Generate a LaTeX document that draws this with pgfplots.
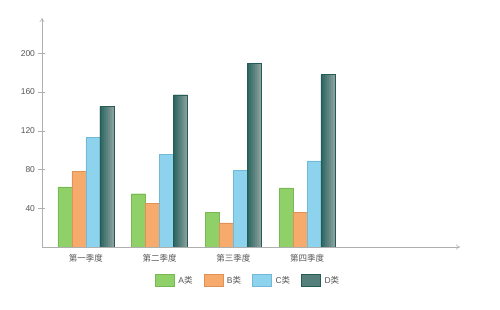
\documentclass[border=0pt]{standalone}
\usepackage{pgfplots}
\pgfplotsset{compat=1.18}
\usepackage{pgfplotstable}
\usetikzlibrary{arrows.meta}
\usepackage{fontspec}
\setmainfont{Liberation Sans}
\newfontfamily\cjk{Noto Sans CJK SC}
\definecolor{cA}{RGB}{143,209,104}
\definecolor{cAd}{RGB}{120,185,85}
\definecolor{cB}{RGB}{246,170,108}
\definecolor{cBd}{RGB}{225,145,85}
\definecolor{cC}{RGB}{142,211,238}
\definecolor{cCd}{RGB}{115,185,215}
\definecolor{cDl}{RGB}{45,102,97}
\definecolor{cDr}{RGB}{135,158,155}
\definecolor{cDd}{RGB}{38,92,87}
\definecolor{axc}{RGB}{175,175,175}
\definecolor{txt}{RGB}{85,85,85}
\colorlet{cDs0}{cDl!100!cDr}
\colorlet{cDs1}{cDl!84!cDr}
\colorlet{cDs2}{cDl!68!cDr}
\colorlet{cDs3}{cDl!52!cDr}
\colorlet{cDs4}{cDl!36!cDr}
\colorlet{cDs5}{cDl!18!cDr}
\colorlet{cDs6}{cDl!0!cDr}
\pgfplotstableread{
x A B C D
0 62 78 113 145
1 55 45 96 157
2 36 25 79 190
3 61 36 89 178
}\datatab
\begin{document}
\begin{tikzpicture}
\begin{axis}[
  name=ax,
  at={(0pt,0pt)}, anchor=south west,
  scale only axis, width=418pt, height=229pt,
  xmin=-0.597, xmax=5.075, ymin=0, ymax=236.5,
  axis lines=left,
  axis line style={axc, line width=0.6pt, -{To[length=4pt,width=5pt]}},
  ybar, bar width=14pt,
  xtick={0,1,2,3},
  xticklabels={{\cjk 第一季度},{\cjk 第二季度},{\cjk 第三季度},{\cjk 第四季度}},
  x tick style={draw=none},
  ytick={40,80,120,160,200},
  y tick style={axc, line width=0.6pt},
  tick align=center, major tick length=7pt,
  tick label style={font=\fontsize{8.5}{10}\selectfont, text=txt},
  /pgf/number format/assume math mode=true,
  legend columns=4,
  legend style={draw=none, fill=none, at={(0.493,-0.145)}, anchor=center,
    font=\fontsize{8.5}{10}\selectfont, text=txt,
    /tikz/every odd column/.append style={column sep=2pt},
    /tikz/every even column/.append style={column sep=9pt}},
  legend image code/.code={\draw[#1] (0pt,-6pt) rectangle (19pt,6pt);},
]
\addplot[fill=cA, draw=cAd, bar shift=-21pt] table[x=x,y=A] {\datatab};
\addlegendentry{A{\cjk 类}}
\addplot[fill=cB, draw=cBd, bar shift=-7pt] table[x=x,y=B] {\datatab};
\addlegendentry{B{\cjk 类}}
\addplot[fill=cC, draw=cCd, bar shift=7pt] table[x=x,y=C] {\datatab};
\addlegendentry{C{\cjk 类}}
\addplot[fill=cDl!55!cDr, draw=cDd, bar shift=21pt] table[x=x,y=D] {\datatab};
\addlegendentry{D{\cjk 类}}
\pgfplotsinvokeforeach{0,1,2,3,4,5,6}{
  \addplot[forget plot, draw=none, fill=cDs#1, bar width=2.4pt, bar shift={(15+2*#1)*1pt}] table[x=x,y=D] {\datatab};
}
\addplot[forget plot, fill=none, draw=cDd, bar shift=21pt] table[x=x,y=D] {\datatab};
\end{axis}
\pgfresetboundingbox
\path[use as bounding box] (-42pt,-63pt) rectangle (458pt,247pt);
\end{tikzpicture}
\end{document}
